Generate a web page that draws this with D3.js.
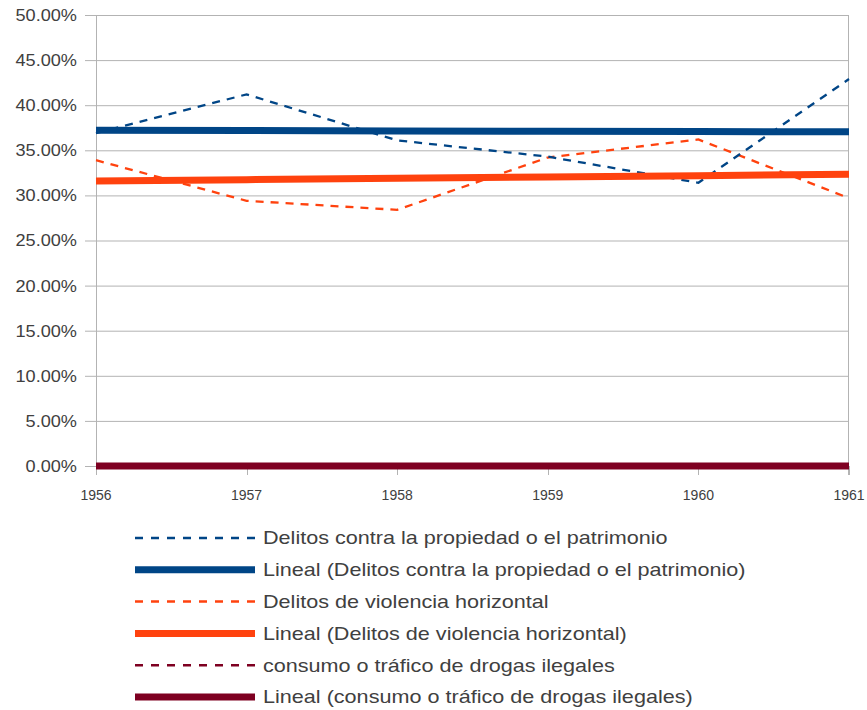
<!DOCTYPE html>
<html>
<head>
<meta charset="utf-8">
<script src="https://cdn.jsdelivr.net/npm/d3@7"></script>
<style>
  html, body { margin: 0; padding: 0; background: #ffffff; }
  svg { display: block; font-family: "Liberation Sans", Arial, sans-serif; }
</style>
</head>
<body>
<svg id="chart" width="867" height="710"></svg>
<script>
const years = [1956, 1957, 1958, 1959, 1960, 1961];
const yTicks = [0, 0.05, 0.10, 0.15, 0.20, 0.25, 0.30, 0.35, 0.40, 0.45, 0.50];
const propiedad = [0.369, 0.412, 0.361, 0.343, 0.314, 0.429];
const violencia = [0.339, 0.294, 0.284, 0.342, 0.362, 0.297];
const drogas = [0, 0, 0, 0, 0, 0];
const seriesNames = [
  "Delitos contra la propiedad o el patrimonio",
  "Delitos de violencia horizontal",
  "consumo o tráfico de drogas ilegales"
];
const seriesColors = ["#004586", "#ff420e", "#7e0021"];

const svg = d3.select("#chart");
const x = d3.scaleLinear().domain([1956, 1961]).range([96, 849]);
const y = d3.scaleLinear().domain([0, 0.5]).range([466, 15]);
const grid = "#b3b3b3";
const textColor = "#404040";

// gridlines
svg.append("g").selectAll("line").data(yTicks).join("line")
  .attr("x1", 85).attr("x2", x(1961))
  .attr("y1", d => y(d) + 0.5).attr("y2", d => y(d) + 0.5)
  .attr("stroke", grid).attr("stroke-width", 1);
// axis lines
svg.append("line").attr("x1", x(1956) + 0.5).attr("x2", x(1956) + 0.5)
  .attr("y1", y(0.5)).attr("y2", y(0) + 9).attr("stroke", grid);
svg.append("line").attr("x1", x(1961) - 0.5).attr("x2", x(1961) - 0.5)
  .attr("y1", y(0.5)).attr("y2", y(0) + 9).attr("stroke", grid);
svg.append("g").selectAll("line").data(years).join("line")
  .attr("x1", d => Math.round(x(d)) + 0.5).attr("x2", d => Math.round(x(d)) + 0.5)
  .attr("y1", y(0)).attr("y2", y(0) + 9).attr("stroke", grid);

// y labels (slightly wide rendering as in the reference)
svg.append("g").selectAll("text").data(yTicks).join("text")
  .attr("transform", d => `translate(77,${y(d)}) scale(1.1,1)`)
  .attr("dy", "0.36em").attr("text-anchor", "end")
  .attr("font-size", 16.5).attr("fill", textColor)
  .text(d => d3.format(".2%")(d));
// x labels
svg.append("g").selectAll("text").data(years).join("text")
  .attr("x", d => x(d)).attr("y", 500)
  .attr("text-anchor", "middle")
  .attr("font-size", 14).attr("fill", textColor)
  .text(d => d);

const allData = [propiedad, violencia, drogas];
const line = d3.line().x((d, i) => x(years[i])).y(d => y(d));

function trend(vals) {
  const mx = d3.mean(years), my = d3.mean(vals);
  let sxy = 0, sxx = 0;
  years.forEach((yr, i) => { sxy += (yr - mx) * (vals[i] - my); sxx += (yr - mx) ** 2; });
  const b = sxx ? sxy / sxx : 0;
  return years.map(yr => my + b * (yr - mx));
}

// dashed series (drawn in reverse so blue is on top)
[2, 1, 0].forEach(k => {
  svg.append("path").datum(allData[k]).attr("d", line)
    .attr("fill", "none").attr("stroke", seriesColors[k])
    .attr("stroke-width", 2.3).attr("stroke-dasharray", "8,7");
});
// trend lines
[0, 1, 2].forEach(k => {
  svg.append("path").datum(trend(allData[k])).attr("d", line)
    .attr("fill", "none").attr("stroke", seriesColors[k])
    .attr("stroke-width", 7);
});

// legend
const legendItems = [];
seriesNames.forEach((nm, k) => {
  legendItems.push({ label: nm, color: seriesColors[k], dashed: true });
  legendItems.push({ label: "Lineal (" + nm + ")", color: seriesColors[k], dashed: false });
});
const lg = svg.append("g");
legendItems.forEach((it, i) => {
  const cy = 538 + i * 31.8;
  lg.append("line").attr("x1", 135).attr("x2", 255).attr("y1", cy).attr("y2", cy)
    .attr("stroke", it.color).attr("stroke-width", it.dashed ? 2.5 : 7)
    .attr("stroke-dasharray", it.dashed ? "8,8" : null);
  lg.append("text").attr("transform", `translate(263,${cy}) scale(1.2,1)`)
    .attr("dy", "0.36em")
    .attr("font-size", 18).attr("fill", textColor).text(it.label);
});
</script>
</body>
</html>
